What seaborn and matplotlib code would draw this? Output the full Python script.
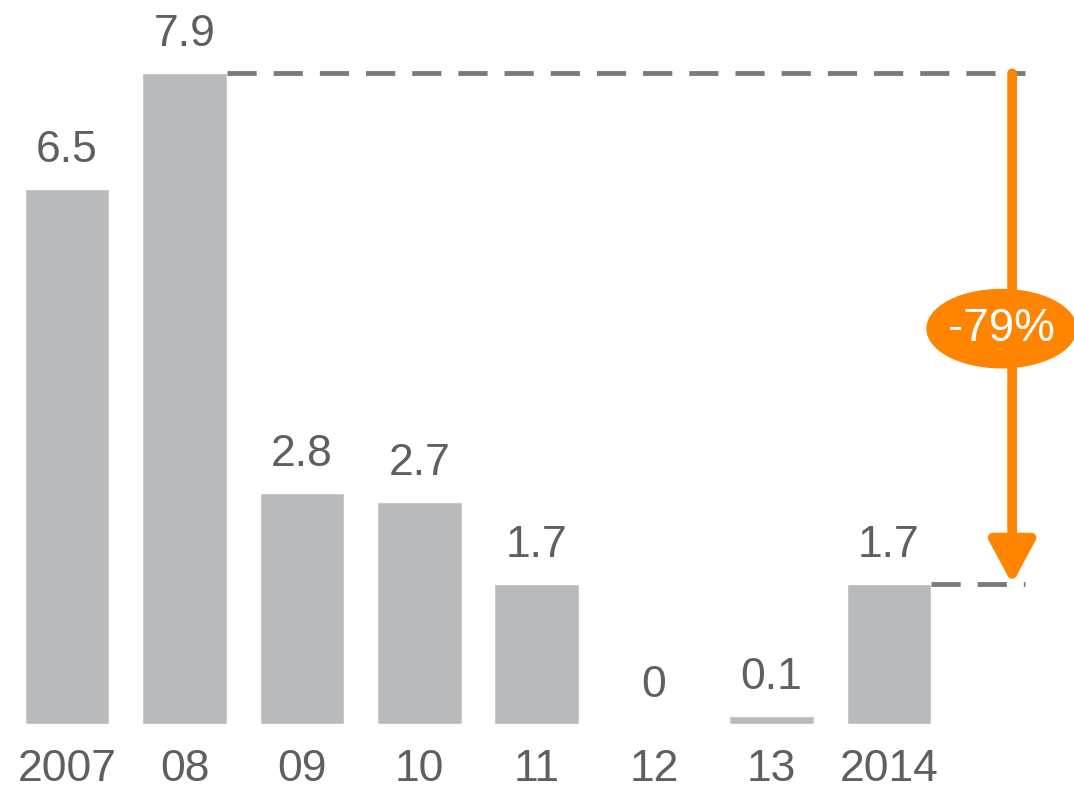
import matplotlib
matplotlib.use("Agg")
import matplotlib.pyplot as plt
from matplotlib.patches import Ellipse
import seaborn as sns

# data
years = ["2007", "08", "09", "10", "11", "12", "13", "2014"]
values = [6.5, 7.9, 2.8, 2.7, 1.7, 0.0, 0.1, 1.7]
value_labels = ["6.5", "7.9", "2.8", "2.7", "1.7", "0", "0.1", "1.7"]
change_label = "-79%"

bar_color = "#b9babc"
text_color = "#5f5f5f"
orange = "#ff8500"
dash_color = "#7a7a7a"

sns.set_theme(style="white")
plt.rcParams["font.family"] = ["Liberation Sans", "DejaVu Sans"]

fig = plt.figure(figsize=(10.74, 7.93), dpi=100)
ax = fig.add_axes([0, 69 / 793, 1, 724 / 793])

sns.barplot(x=years, y=values, color=bar_color, width=0.72, saturation=1, ax=ax)

ax.set_xlim(-0.571, 8.577)
ax.set_ylim(0, 8.79)
ax.bar_label(ax.containers[0], labels=value_labels, padding=13,
             fontsize=32, color=text_color)

ax.set_xticks(range(len(years)))
ax.set_xticklabels(years, fontsize=32, color=text_color)
ax.tick_params(axis="x", length=0, pad=18)
ax.set_yticks([])
ax.set_xlabel("")
ax.set_ylabel("")
sns.despine(ax=ax, left=True, bottom=True, top=True, right=True)

# reference lines from 2008 peak and 2014 level
x_arrow = 8.05
x_end = 8.16
dash = dict(color=dash_color, lw=3.5, ls=(0, (6, 3.5)), solid_capstyle="butt")
ax.plot([1.36, x_end], [values[1], values[1]], **dash)
ax.plot([7.36, x_end], [values[7], values[7]], **dash)

# arrow showing the drop
ax.annotate("", xy=(x_arrow, values[7]), xytext=(x_arrow, values[1]),
            arrowprops=dict(arrowstyle="-|>,head_length=26,head_width=14",
                            mutation_scale=1, lw=7, color=orange,
                            shrinkA=0, shrinkB=0))

ax.add_patch(Ellipse((7.96, 4.8), 1.27, 0.95, color=orange, zorder=5))
ax.text(7.96, 4.8, change_label, ha="center", va="center", fontsize=33,
        color="white", zorder=6)

fig.savefig("out.png", dpi=100)
